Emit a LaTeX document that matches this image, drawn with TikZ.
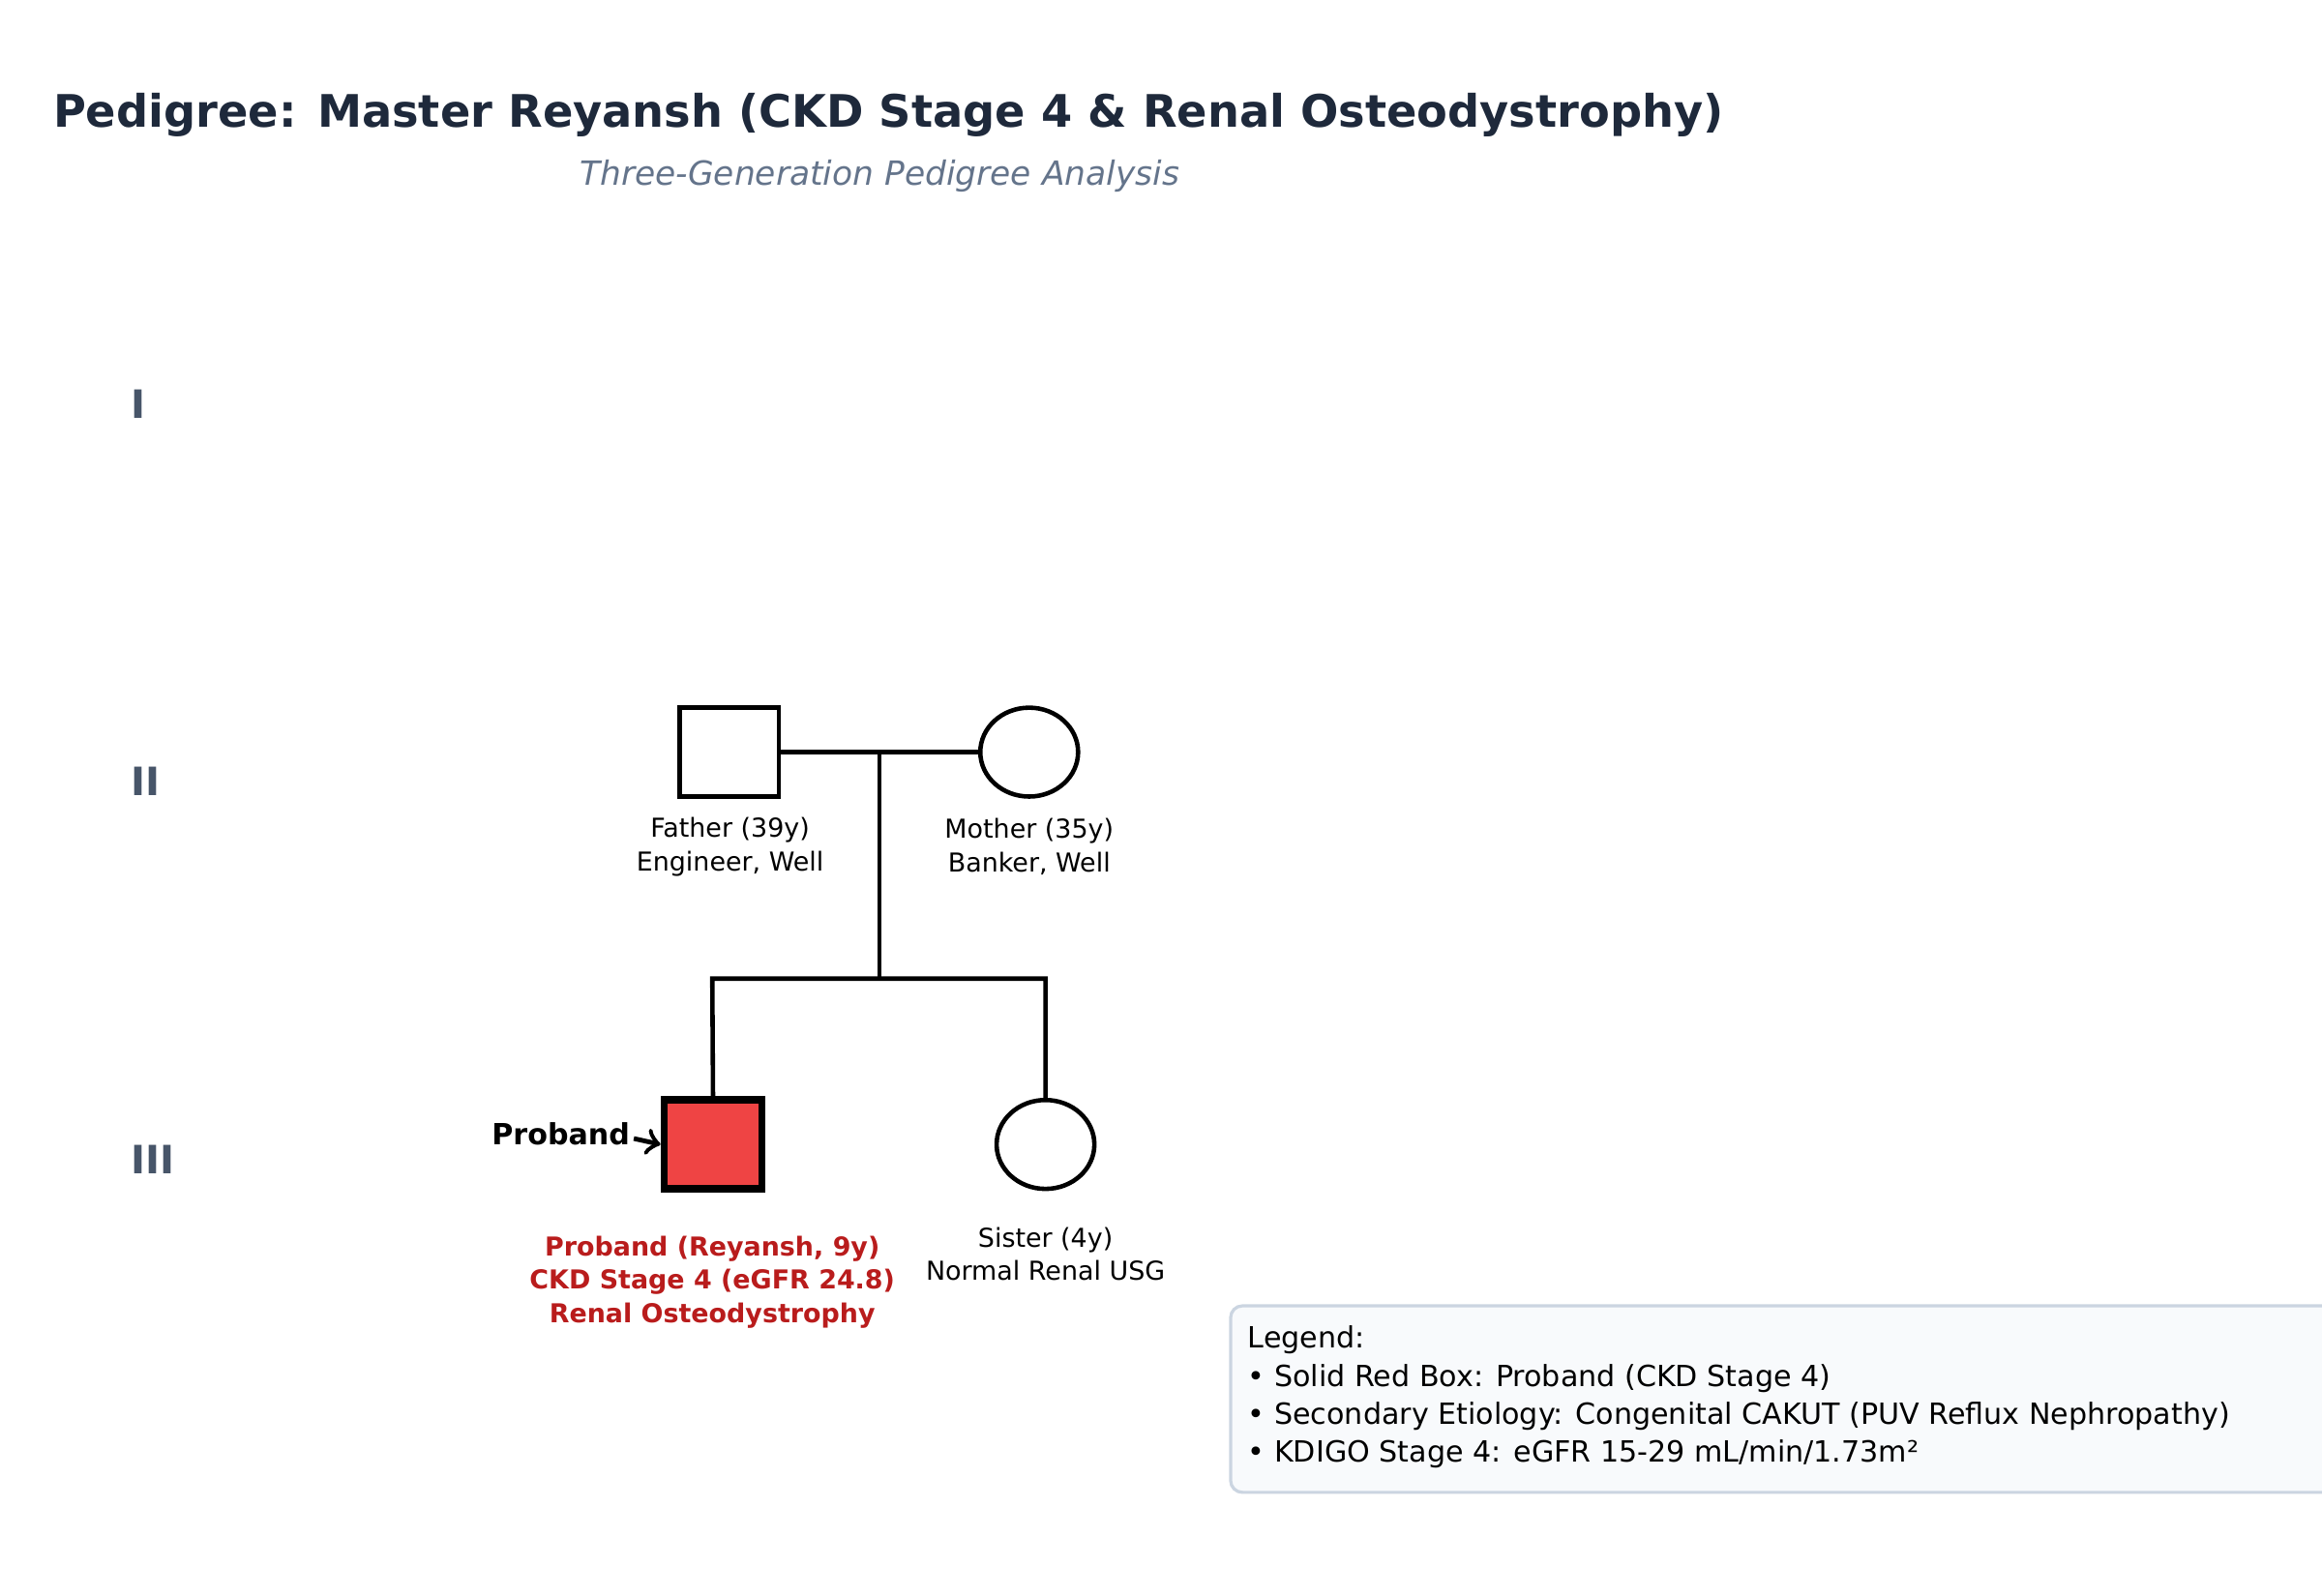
\documentclass[tikz,border=0pt]{standalone}
\usepackage{fontspec}
\setmainfont{DejaVu Sans}
\usetikzlibrary{shapes.geometric}
\begin{document}
\begin{tikzpicture}[x=0.01cm,y=-0.01cm,
  ln/.style={line width=0.85pt,black},
  lab/.style={font=\fontsize{5}{6.4}\selectfont,align=center,inner sep=0},
  gen/.style={font=\fontsize{7.5}{9}\selectfont\bfseries,text=gencol,inner sep=0},
  plab/.style={font=\fontsize{5}{6.4}\selectfont\bfseries,text=probtxt,align=center,inner sep=0}]
\definecolor{titlec}{HTML}{1E293B}
\definecolor{subc}{HTML}{64748B}
\definecolor{gencol}{HTML}{475569}
\definecolor{probfill}{HTML}{EF4444}
\definecolor{probtxt}{HTML}{B91C1C}
\definecolor{legfill}{HTML}{F8FAFC}
\definecolor{legdraw}{HTML}{CBD5E1}
\clip (0,0) rectangle (1568,1078);
\useasboundingbox (0,0) rectangle (1568,1078);
\node[font=\fontsize{8.6}{10}\selectfont\bfseries,text=titlec] (title) at (600,78) {Pedigree: Master Reyansh (CKD Stage 4 \& Renal Osteodystrophy)};
\node[font=\fontsize{6.4}{8}\selectfont\itshape,text=subc] (sub) at (594,119) {Three-Generation Pedigree Analysis};
\node[gen,anchor=west] (g1) at (88,273) {I};
\node[gen,anchor=west] (g2) at (88,528) {II};
\node[gen,anchor=west] (g3) at (88,783) {III};
% generation II
\node[ln,draw,fill=white,minimum width=0.67cm,minimum height=0.6cm,inner sep=0] (father) at (492.5,508) {};
\node[ln,draw,fill=white,ellipse,minimum width=0.66cm,minimum height=0.6cm,inner sep=0] (mother) at (695,508) {};
\coordinate (mar) at (594,508);
\coordinate (sib) at (594,661);
\coordinate (sibL) at (481,661);
\coordinate (sibR) at (706,661);
% generation III
\node[draw,line width=1.4pt,fill=probfill,minimum width=0.66cm,minimum height=0.6cm,inner sep=0] (proband) at (481.5,773) {};
\node[ln,draw,fill=white,ellipse,minimum width=0.66cm,minimum height=0.6cm,inner sep=0] (sister) at (706,773) {};
\draw[ln] (father.east) -- (mother.west);
\draw[ln] (mar) -- (sib);
\draw[ln] (proband.north) -- (sibL) -- (sibR) -- (sister.north);
% labels
\node[lab] (fl) at (493,572) {Father (39y)\\Engineer, Well};
\node[lab] (ml) at (695,572) {Mother (35y)\\Banker, Well};
\node[plab] (pl) at (481,866) {Proband (Reyansh, 9y)\\CKD Stage 4 (eGFR 24.8)\\Renal Osteodystrophy};
\node[lab] (sl) at (706,847) {Sister (4y)\\Normal Renal USG};
\node[font=\fontsize{5.6}{7}\selectfont\bfseries,anchor=east,inner sep=0] (parrow) at (426,766) {Proband};
\draw[line width=0.9pt,->] (parrow.east) ++(2,3) -- (proband.west);
% legend
\draw[legdraw,fill=legfill,line width=0.6pt,rounded corners=0.08cm] (831,882) rectangle (1580,1008);
\node[font=\fontsize{5.6}{7.3}\selectfont,align=left,anchor=north west,inner sep=0] (legend) at (842,895) {Legend:\\• Solid Red Box: Proband (CKD Stage 4)\\• Secondary Etiology: Congenital CAKUT (PUV Reflux Nephropathy)\\• KDIGO Stage 4: eGFR 15-29 mL/min/1.73m²};
\end{tikzpicture}
\end{document}
